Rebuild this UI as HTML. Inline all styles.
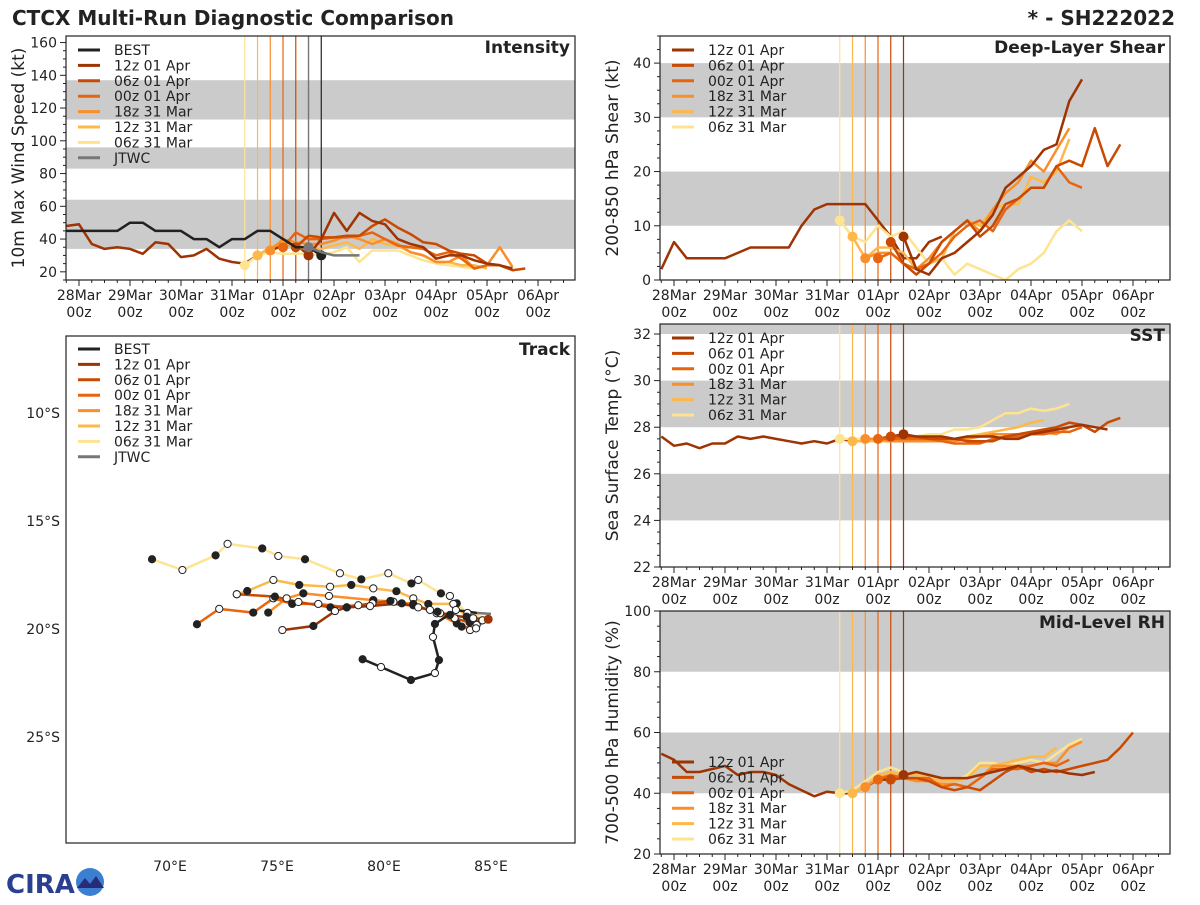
<!DOCTYPE html>
<html><head><meta charset="utf-8"><style>
body{margin:0;background:#fff;width:1200px;height:900px;overflow:hidden;font-family:"Liberation Sans","DejaVu Sans",sans-serif}
svg text{font-family:"DejaVu Sans","Liberation Sans",sans-serif;fill:#222}
</style></head><body>
<svg id="chart" width="1200" height="900" viewBox="0 0 1200 900" xmlns="http://www.w3.org/2000/svg">
<text x="12" y="25" font-size="20" font-weight="bold">CTCX Multi-Run Diagnostic Comparison</text>
<text x="1175" y="25" font-size="20" font-weight="bold" text-anchor="end">* - SH222022</text>
<g>
<text x="6" y="893" font-size="26" font-weight="bold" style="fill:#2a3f8f">CIRA</text>
<circle cx="90" cy="882" r="14" fill="#3b7fd0"/>
<path d="M77,888 L85,878 L90,884 L96,876 L104,888 Z" fill="#2a2a7a"/>
</g>
<g id="plots"></g>
</svg>
<script>
// ---------- shared categories ----------
const runNames = ["06z 31 Mar","12z 31 Mar","18z 31 Mar","00z 01 Apr","06z 01 Apr","12z 01 Apr"];
const runInit = [3.25,3.5,3.75,4.0,4.25,4.5];
const runColors = ["#fee391","#fdb84a","#f98e2a","#e8650f","#c94a02","#9e3303"];
const dayLabels = ["28Mar","29Mar","30Mar","31Mar","01Apr","02Apr","03Apr","04Apr","05Apr","06Apr"];
const histStart = -0.25;

// ---------- intensity (kt) ----------
const intBest = [45,45,45,45,45,50,50,45,45,45,40,40,35,40,40,45,45,40,35,35,30];
const intHist = [48,49,37,34,35,34,31,38,37,29,30,34,28,26,25,30,33,36,37,30];
const intJtwc = [35,32,30,30,30];
const int06z31 = [24,30,32,31,31,31,30,32,35,26,33,33,33,30,27,25,24,23,22,24];
const int12z31 = [30,35,38,35,34,34,36,38,34,40,37,36,32,30,26,26,24,24,22];
const int18z31 = [33,40,38,37,37,39,42,40,37,40,37,32,30,26,26,30,22,24,35,23];
const int00z01 = [35,44,40,40,41,41,42,44,40,36,35,34,30,32,28,22,24,24];
const int06z01 = [35,42,41,41,42,42,48,52,47,43,38,37,33,31,30,25,24,21,22];
const int12z01 = [30,40,56,45,56,51,49,40,37,35,28,30,30,27,25,24,22];
const intYTicks = [20,40,60,80,100,120,140,160];

// ---------- shear (kt) ----------
const shrHist = [2,7,4,4,4,4,5,6,6,6,6,10,13,14,14,14,14,11,8,4,4,7,8];
const shr06z31 = [11,8,7,10,8,9,6,3,4,1,3,2,1,0,2,3,5,9,11,9];
const shr12z31 = [8,4,6,6,5,2,3,4,9,11,10,13,14,14,19,18,20,26];
const shr18z31 = [4,5,5,3,2,4,7,9,11,9,13,16,18,22,20,24,28];
const shr00z01 = [4,5,3,2,3,5,8,10,11,9,13,15,17,17,21,18,17];
const shr06z01 = [7,3,1,3,7,9,11,8,10,14,15,17,17,21,22,21,28,21,25];
const shr12z01 = [8,2,1,4,5,7,9,12,17,19,21,24,25,33,37];
const shrYTicks = [0,10,20,30,40];

// ---------- SST (C) ----------
const sstHist = [27.6,27.2,27.3,27.1,27.3,27.3,27.6,27.5,27.6,27.5,27.4,27.3,27.4,27.3,27.5,27.4,27.5,27.5,27.6,27.7];
const sst06z31 = [27.5,27.5,27.5,27.5,27.5,27.5,27.6,27.7,27.7,27.9,27.9,28.0,28.3,28.6,28.6,28.8,28.7,28.8,29.0];
const sst12z31 = [27.4,27.4,27.4,27.4,27.4,27.4,27.4,27.5,27.5,27.6,27.7,27.8,27.9,28.0,28.2,28.3];
const sst18z31 = [27.5,27.5,27.4,27.4,27.4,27.4,27.4,27.4,27.5,27.6,27.7,27.7,27.7,27.7,27.8,27.7,28.0];
const sst00z01 = [27.5,27.5,27.5,27.5,27.5,27.4,27.3,27.3,27.3,27.5,27.6,27.6,27.7,27.7,27.8,27.8,28.0];
const sst06z01 = [27.6,27.6,27.6,27.5,27.5,27.5,27.4,27.4,27.4,27.6,27.7,27.8,27.9,28.0,28.2,28.1,27.8,28.2,28.4];
const sst12z01 = [27.7,27.6,27.6,27.6,27.5,27.6,27.6,27.6,27.5,27.5,27.7,27.8,27.9,28.0,28.1,28.0,27.9];
const sstYTicks = [22,24,26,28,30,32];

// ---------- RH (%) ----------
const rhHist = [53,51,47,47,48,49,46,47,47,46,43,41,39,40.5,40,40,42,44.5,44.5,45.5];
const rh06z31 = [40,41,44,47,48.5,47,46,45,44,44,46,50,50,49,50,51,50,53,56,58];
const rh12z31 = [40,42,46,47,46,46,45,44,44,45,49,49,50,51,52,52,55];
const rh18z31 = [42,45,46,45,44,44,43,43,42,45,49,49,49,49,50,50,55,57];
const rh00z01 = [44.5,46,45,45,45,42,43,42,45,48,48,48,49,50,49,51];
const rh06z01 = [44.5,45,45,44,42,41,42,41,44,47,49,47,48,47,48,49,50,51,55,60];
const rh12z01 = [46,47,46,45,45,45,46,47,48,49,48,47,47.5,46.5,46,47];
const rhYTicks = [20,40,60,80,100];

// ---------- track (lon E, lat S) ----------
const trkBestLon = [84.35,83.36,82.38,82.29,82.57,82.38,81.26,79.86,79.0];
const trkBestLat = [19.26,19.12,19.77,20.37,21.44,22.04,22.36,21.76,21.4];
const trkJtwcLon = [84.35,85.0];
const trkJtwcLat = [19.26,19.3];
const trk06z31Lon = [84.8,83.9,83.4,83.08,82.66,81.6,81.28,80.2,78.94,77.94,76.31,75.06,74.31,72.69,72.13,70.58,69.16];
const trk06z31Lat = [19.5,19.26,18.81,18.47,18.35,17.73,17.89,17.42,17.7,17.42,16.77,16.62,16.27,16.06,16.59,17.27,16.77];
const trk12z31Lon = [84.8,84.33,83.86,83.24,82.07,81.37,80.58,79.5,78.47,77.48,76.04,74.83,73.61,73.12];
const trk12z31Lat = [19.5,19.81,19.43,18.84,18.84,18.58,18.25,18.12,17.96,18.04,17.96,17.73,18.24,18.39];
const trk18z31Lon = [84.8,84.02,83.4,82.46,81.37,80.44,79.5,77.43,76.23,75.45,74.59];
const trk18z31Lat = [19.5,20.05,19.74,19.27,18.84,18.74,18.66,18.47,18.35,18.58,19.24];
const trk00z01Lon = [84.8,84.3,83.63,82.62,81.37,79.46,78.26,76.93,75.71,74.83,73.89,72.3,71.26];
const trk00z01Lat = [19.5,19.97,19.89,19.27,18.9,18.81,19.0,18.84,18.84,18.58,19.24,19.07,19.78];
const trk06z01Lon = [85.0,84.6,84.0,83.3,82.5,81.6,80.3,78.8,77.5,76.0,74.9,73.12];
const trk06z01Lat = [19.5,19.6,19.7,19.5,19.2,19.0,18.7,18.9,19.0,18.75,18.5,18.39];
const trk12z01Lon = [84.87,84.17,83.08,82.15,80.83,79.35,78.26,77.71,76.7,75.25];
const trk12z01Lat = [19.55,19.5,19.35,19.12,18.81,18.94,19.0,19.17,19.86,20.05];
const lonTicks = [70,75,80,85];
const latTicks = [10,15,20,25];

const NS="http://www.w3.org/2000/svg";
const root=document.getElementById('plots');
function mk(tag,attrs,name,parent,inter){
  const el=document.createElementNS(NS,tag);
  for(const k in attrs) el.setAttribute(k,attrs[k]);
  
  
  (parent||root).appendChild(el);return el;
}
function txt(s,attrs,name,parent){const t=mk('text',attrs,name,parent);t.textContent=s;return t;}

function tsPanel(c){
  const g=mk('g',{},c.name+'-panel');
  const X=d=>c.x0+(d-c.xl[0])/(c.xl[1]-c.xl[0])*(c.x1-c.x0);
  const Y=v=>c.y1-(v-c.yl[0])/(c.yl[1]-c.yl[0])*(c.y1-c.y0);
  const cl=v=>Math.max(c.yl[0],Math.min(c.yl[1],v));
  c.bands.forEach((b,i)=>{const ya=Y(cl(b[1])),yb=Y(cl(b[0]));
    mk('rect',{x:c.x0,y:ya,width:c.x1-c.x0,height:yb-ya,fill:'#cbcbcb'},'shaded-band',g);});
  c.yt.forEach(v=>{mk('line',{x1:c.x0-6,x2:c.x0,y1:Y(v),y2:Y(v),stroke:'#222'},'y-tick',g);
    txt(String(v),{x:c.x0-9,y:Y(v)+5,'font-size':14,'text-anchor':'end'},'y-tick-label',g);});
  for(let v=c.yl[0];v<=c.yl[1];v+=c.ym){if(Math.abs((v-c.yt[0])%(c.yt[1]-c.yt[0]))<1e-6)continue;
    mk('line',{x1:c.x0-3,x2:c.x0,y1:Y(v),y2:Y(v),stroke:'#222'},'y-minor-tick',g);}
  dayLabels.forEach((l,i)=>{const x=X(i);
    mk('line',{x1:x,x2:x,y1:c.y1,y2:c.y1+6,stroke:'#222'},'x-tick',g);
    txt(l,{x:x,y:c.y1+20,'font-size':14,'text-anchor':'middle'},'x-tick-label',g);
    txt('00z',{x:x,y:c.y1+37,'font-size':14,'text-anchor':'middle'},'x-tick-label',g);});
  for(let d=Math.ceil(c.xl[0]*4)/4;d<=c.xl[1];d+=0.25){mk('line',{x1:X(d),x2:X(d),y1:c.y1,y2:c.y1+3,stroke:'#222'},'x-minor-tick',g);}
  txt(c.ylabel,{x:0,y:0,'font-size':17,'text-anchor':'middle',transform:`translate(${c.x0-42},${(c.y0+c.y1)/2}) rotate(-90)`},'y-axis-title',g);
  runInit.forEach((d,i)=>mk('line',{x1:X(d),x2:X(d),y1:c.y0,y2:c.y1,stroke:runColors[i],'stroke-width':1.2},'init-time-line',g));
  if(c.extraV) c.extraV.forEach(e=>mk('line',{x1:X(e[0]),x2:X(e[0]),y1:c.y0,y2:c.y1,stroke:e[1],'stroke-width':1.2},'best-time-line',g));
  const pl=(arr,start,col,w,name)=>{const p=arr.map((v,i)=>X(start+i*0.25).toFixed(1)+','+Y(v).toFixed(1)).join(' ');
    mk('polyline',{points:p,fill:'none',stroke:col,'stroke-width':w,'stroke-linejoin':'round'},name,g);};
  pl(c.hist,histStart,runColors[5],2.5,'history-line');
  c.runs.forEach((arr,i)=>{pl(arr,runInit[i],runColors[i],2.5,'forecast-line-'+i);});
  c.runs.forEach((arr,i)=>{mk('circle',{cx:X(runInit[i]),cy:Y(arr[0]),r:5,fill:runColors[i]},'init-marker',g);});
  if(c.best){pl(c.best,histStart,'#222',2.5,'best-line');
    mk('circle',{cx:X(histStart+(c.best.length-1)*0.25),cy:Y(c.best[c.best.length-1]),r:5,fill:'#222'},'best-marker',g);}
  if(c.jtwc){pl(c.jtwc,4.5,'#777',2.5,'jtwc-line');mk('circle',{cx:X(4.5),cy:Y(c.jtwc[0]),r:5,fill:'#777'},'jtwc-marker',g);}
  mk('rect',{x:c.x0,y:c.y0,width:c.x1-c.x0,height:c.y1-c.y0,fill:'none',stroke:'#222','stroke-width':1.2},'plot-frame',g);
  txt(c.title,{x:c.x1-5,y:c.y0+17,'font-size':17,'font-weight':'bold','text-anchor':'end'},'panel-title',g);
  legend(g,c.x0+12,c.ly,c.leg);
}
function legend(g,x,y,items){
  const lg=mk('g',{},'legend',g);
  items.forEach((it,i)=>{const yy=y+i*15.4;
    mk('line',{x1:x,x2:x+22,y1:yy,y2:yy,stroke:it[1],'stroke-width':3},'legend-swatch',lg);
    txt(it[0],{x:x+36,y:yy+5,'font-size':14},'legend-entry',lg);});
}
const runLeg=[5,4,3,2,1,0].map(i=>[runNames[i],runColors[i]]);

const RX=[(660-674)/51,(1170-674)/51];
tsPanel({name:'intensity',x0:66,x1:575,y0:36,y1:280,xl:[-0.255,9.725],yl:[15,164],yt:intYTicks,ym:5,
  bands:[[34,64],[83,96],[113,137]],ylabel:'10m Max Wind Speed (kt)',title:'Intensity',
  hist:intHist,runs:[int06z31,int12z31,int18z31,int00z01,int06z01,int12z01],best:intBest,jtwc:intJtwc,
  extraV:[[4.5,'#777'],[4.75,'#222']],ly:50,leg:[['BEST','#222']].concat(runLeg,[['JTWC','#777']])});
tsPanel({name:'shear',x0:660,x1:1170,y0:36,y1:280,xl:RX,yl:[0,45],yt:shrYTicks,ym:2.5,
  bands:[[10,20],[30,40]],ylabel:'200-850 hPa Shear (kt)',title:'Deep-Layer Shear',
  hist:shrHist,runs:[shr06z31,shr12z31,shr18z31,shr00z01,shr06z01,shr12z01],ly:50,leg:runLeg});
tsPanel({name:'sst',x0:660,x1:1170,y0:324,y1:567,xl:RX,yl:[22,32.43],yt:sstYTicks,ym:0.5,
  bands:[[24,26],[28,30],[32,33]],ylabel:'Sea Surface Temp (°C)',title:'SST',
  hist:sstHist,runs:[sst06z31,sst12z31,sst18z31,sst00z01,sst06z01,sst12z01],ly:338,leg:runLeg});
tsPanel({name:'rh',x0:660,x1:1170,y0:611,y1:854,xl:RX,yl:[20,100],yt:rhYTicks,ym:5,
  bands:[[40,60],[80,100]],ylabel:'700-500 hPa Humidity (%)',title:'Mid-Level RH',
  hist:rhHist,runs:[rh06z31,rh12z31,rh18z31,rh00z01,rh06z01,rh12z01],ly:762,leg:runLeg});

// ---------- track panel ----------
(function(){
  const g=mk('g',{},'track-panel');
  const x0=66,x1=575,y0=336,y1=843;
  const LX=lon=>170+(lon-70)*21.4, LY=lat=>413+(lat-10)*21.6;
  lonTicks.forEach(l=>txt(l+'°E',{x:LX(l),y:871,'font-size':14,'text-anchor':'middle'},'lon-tick-label',g));
  latTicks.forEach(l=>txt(l+'°S',{x:x0-6,y:LY(l)+5,'font-size':14,'text-anchor':'end'},'lat-tick-label',g));
  const tracks=[[trk06z31Lon,trk06z31Lat,runColors[0]],[trk12z31Lon,trk12z31Lat,runColors[1]],[trk18z31Lon,trk18z31Lat,runColors[2]],
    [trk00z01Lon,trk00z01Lat,runColors[3]],[trk06z01Lon,trk06z01Lat,runColors[4]],[trk12z01Lon,trk12z01Lat,runColors[5]],
    [trkBestLon,trkBestLat,'#222'],[trkJtwcLon,trkJtwcLat,'#777']];
  tracks.forEach((t,k)=>{const p=t[0].map((lo,i)=>LX(lo).toFixed(1)+','+LY(t[1][i]).toFixed(1)).join(' ');
    mk('polyline',{points:p,fill:'none',stroke:t[2],'stroke-width':2.5,'stroke-linejoin':'round'},'track-line',g);});
  tracks.slice(0,7).forEach(t=>{t[0].forEach((lo,i)=>{if(i===0)return;
    mk('circle',{cx:LX(lo),cy:LY(t[1][i]),r:3.6,fill:i%2?'#fff':'#222',stroke:'#222','stroke-width':1},'track-point',g);});});
  mk('circle',{cx:LX(84.87),cy:LY(19.55),r:4.5,fill:runColors[5]},'current-position',g);
  mk('rect',{x:x0,y:y0,width:x1-x0,height:y1-y0,fill:'none',stroke:'#222','stroke-width':1.2},'plot-frame',g);
  txt('Track',{x:x1-5,y:y0+19,'font-size':17,'font-weight':'bold','text-anchor':'end'},'panel-title',g);
  legend(g,78,349,[['BEST','#222']].concat(runLeg,[['JTWC','#777']]));
})();
</script>
</body></html>
